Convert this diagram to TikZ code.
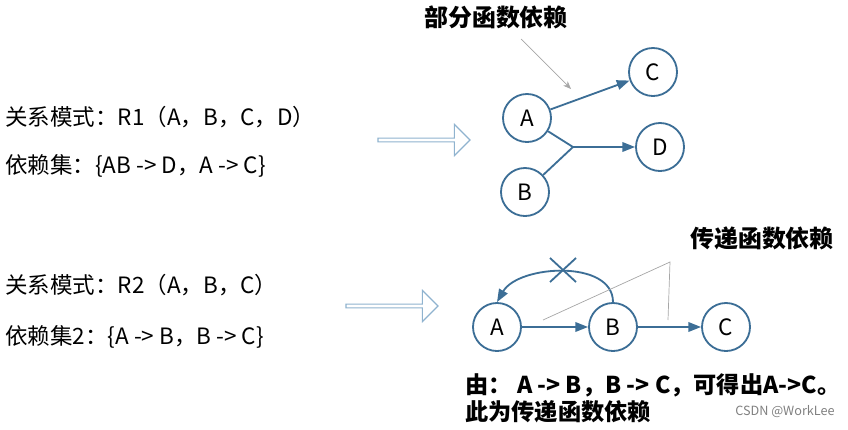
\documentclass[tikz,border=0pt]{standalone}
\usepackage{fontspec}
\setmainfont{Noto Sans CJK SC}
\usetikzlibrary{arrows.meta,shapes.arrows}
\definecolor{edgeblue}{HTML}{3C6E96}
\definecolor{hollowblue}{HTML}{8FB3CF}

\begin{document}
\begin{tikzpicture}
[
x=0.025cm, y=-0.025cm,
attr/.style={
% The shape:
circle,
% The size:
minimum size=1.2cm,
inner sep=0pt,
% The border:
line width=1.3pt,
draw=edgeblue,
% The text:
font=\fontsize{16}{18}\selectfont
},
dep/.style={
% the blue connectors
line width=1.3pt,
draw=edgeblue,
-{Triangle[length=3.2mm,width=2.4mm,fill=edgeblue]}
},
hint/.style={
% thin gray marks
line width=0.5pt,
draw=gray!70
},
bigarrow/.style={
% the hollow arrow
single arrow,
draw=hollowblue,
fill=white,
line width=0.8pt,
minimum height=2.3cm,
minimum width=0.78cm,
single arrow head extend=0.1cm,
inner sep=0pt
},
plain/.style={
anchor=west,
inner sep=0pt,
font=\fontsize{16}{18}\selectfont
},
title/.style={
inner sep=0pt,
font=\fontsize{17}{19}\selectfont\bfseries
}
]
    \useasboundingbox (0,0) rectangle (848,429);
    % partial dependency
    \node[plain] (r1) at (5,117) {关系模式：R1（A，B，C，D）};
    \node[plain] (f1) at (5,166) {依赖集：\{AB -> D，A -> C\}};
    \node[bigarrow] (h1) at (423,140) {};
    \node[title] (t1) at (496,17) {部分函数依赖};
    \node[attr] (a1) at (527,118) {A};
    \node[attr] (b1) at (525,192) {B};
    \node[attr] (c1) at (653,72) {C};
    \node[attr] (d1) at (660,147) {D};
    \coordinate (j1) at (573,147);
    \coordinate (p1) at (521,39);
    \coordinate (q1) at (571,89);
    \draw[dep] (a1) -- (c1);
    \draw[line width=1.3pt, draw=edgeblue] (a1) -- (j1) -- (b1);
    \draw[dep] (j1) -- (d1);
    \draw[hint, -{Stealth[length=2mm,width=1.6mm]}] (p1) -- (q1);
    % transitive dependency
    \node[plain] (r2) at (5,285) {关系模式：R2（A，B，C）};
    \node[plain] (f2) at (5,337) {依赖集2：\{A -> B，B -> C\}};
    \node[bigarrow] (h2) at (391,306) {};
    \node[title] (t2) at (762,238) {传递函数依赖};
    \node[attr] (a2) at (497,327) {A};
    \node[attr] (b2) at (613,327) {B};
    \node[attr] (c2) at (726,327) {C};
    \coordinate (x2) at (563,270);
    \coordinate (g1) at (543,320);
    \coordinate (g2) at (670,262);
    \coordinate (g3) at (668,320);
    \draw[dep] (a2) -- (b2);
    \draw[dep] (b2) -- (c2);
    \draw[dep] (b2.north) to[out=90, in=60, looseness=0.95] (a2.north);
    \draw[line width=1.3pt, draw=edgeblue] ([shift={(-13,-12)}]x2) -- ([shift={(13,12)}]x2)
        ([shift={(-13,12)}]x2) -- ([shift={(13,-12)}]x2);
    \draw[hint] (g1) -- (g2) -- (g3);
    \node[plain, font=\fontsize{16.5}{19}\selectfont\bfseries] (n1) at (465,385) {由：\ A -> B，B -> C，可得出A->C。};
    \node[plain, font=\fontsize{16.5}{19}\selectfont\bfseries] (n2) at (465,412) {此为传递函数依赖};
    \node[plain, font=\fontsize{9}{10}\selectfont, text=gray] (w) at (735,412) {CSDN @WorkLee};
\end{tikzpicture}
\end{document}
